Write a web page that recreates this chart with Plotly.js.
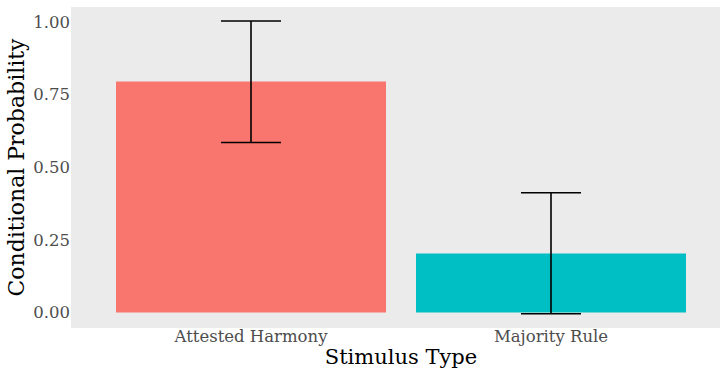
<!DOCTYPE html>
<html><head><meta charset="utf-8">
<script src="https://cdn.plot.ly/plotly-3.0.1.min.js"></script>
<style>html,body{margin:0;padding:0;background:#fff;overflow:hidden;width:720px;height:369px}#c{width:731px;height:369px}</style>
</head><body><div id="c"></div>
<script>
const categories = ["Attested Harmony", "Majority Rule"];
const values = [0.795, 0.203];
const errUpper = [1.003, 0.412];
const errLower = [0.585, -0.004];
const colors = ["#F8766D", "#00BFC4"];
const yTicks = [0, 0.25, 0.5, 0.75, 1.0];
const yTickText = ["0.00", "0.25", "0.50", "0.75", "1.00"];

const trace = {
  type: "bar", x: categories, y: values, width: 0.9,
  marker: {color: colors},
  error_y: {type: "data", symmetric: false,
    array: values.map((v,i)=>errUpper[i]-v),
    arrayminus: values.map((v,i)=>v-errLower[i]),
    color: "#000", thickness: 1.6, width: 30},
  hoverinfo: "none"
};
const font = "DejaVu Serif, Liberation Serif, serif";
Plotly.newPlot("c", [trace], {
  width: 731, height: 369,
  margin: {l: 71, r: 0, t: 7, b: 41},
  paper_bgcolor: "#fff", plot_bgcolor: "#EBEBEB",
  font: {family: font},
  showlegend: false,
  xaxis: {range: [-0.6, 1.6], showgrid: false, zeroline: false, ticks: "", automargin: false,
    ticklabelstandoff: -4,
    tickfont: {size: 16.5, color: "#4D4D4D", family: font},
    title: {text: "Stimulus Type", font: {size: 21, color: "#000", family: font}, standoff: 0}},
  yaxis: {range: [-0.053, 1.051], showgrid: false, zeroline: false, ticks: "", automargin: false,
    tickvals: yTicks, ticktext: yTickText,
    tickfont: {size: 16.5, color: "#4D4D4D", family: font},
    title: {text: "Conditional Probability", font: {size: 22, color: "#000", family: font}, standoff: 2}}
}, {staticPlot: true});
</script></body></html>
